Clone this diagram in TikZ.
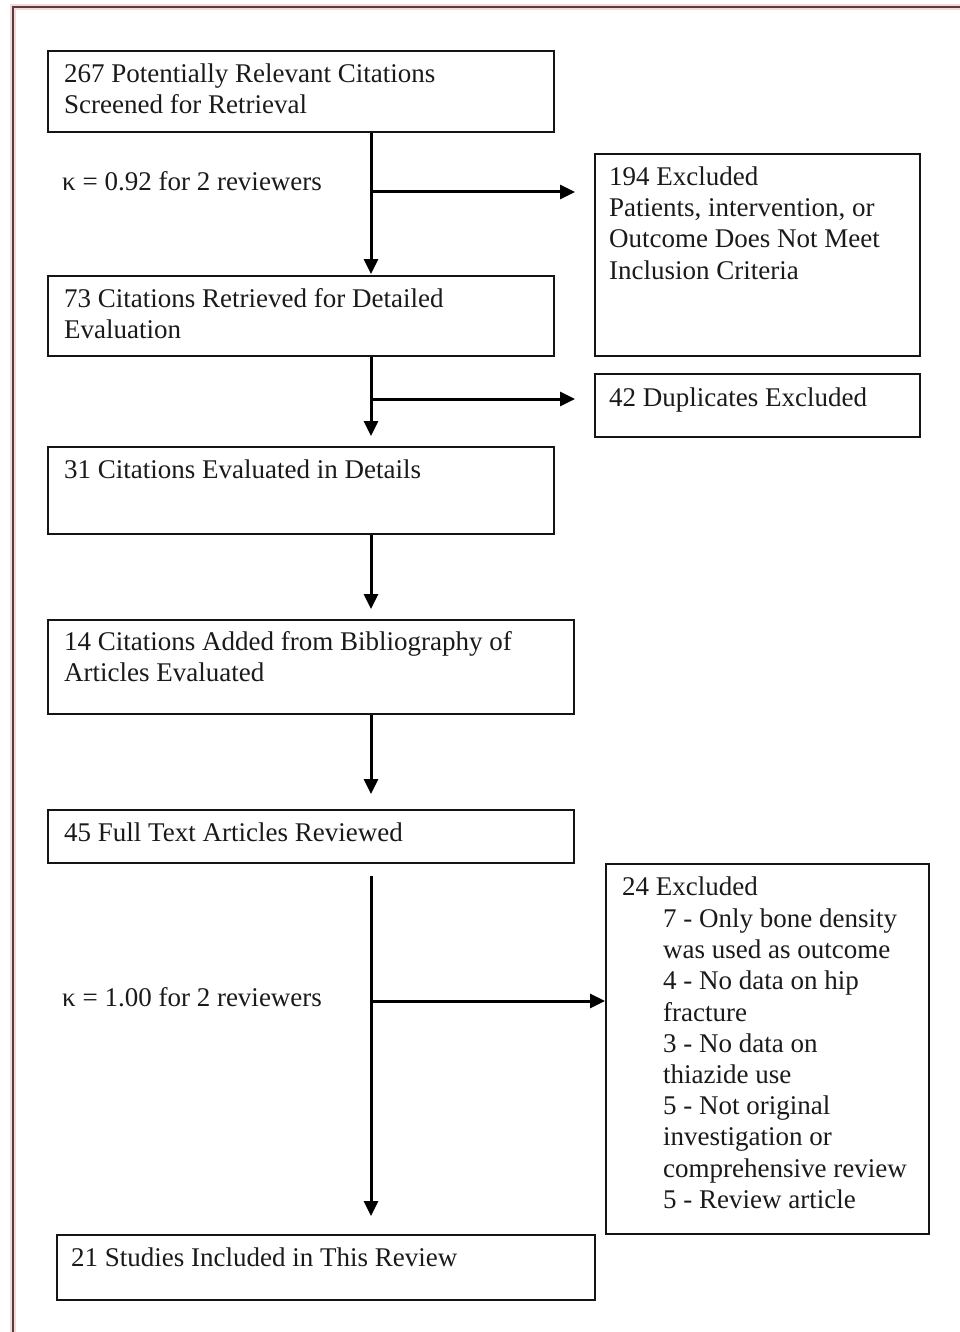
\documentclass[tikz,border=0pt]{standalone}
\usepackage{fontspec}
\setmainfont{Liberation Serif}
\usetikzlibrary{arrows.meta}
\definecolor{boxc}{HTML}{151515}
\definecolor{txtc}{HTML}{1A1A1A}
\definecolor{framec}{HTML}{5A3C3C}
\definecolor{haloc}{HTML}{F3DADA}
\begin{document}
\begin{tikzpicture}[x=1pt,y=-1pt,
  box/.style={draw=boxc, line width=2pt, inner sep=0pt, anchor=north west, fill=white},
  txt/.style={anchor=north west, inner sep=0pt, align=left, text=txtc, font=\fontsize{27}{31.2}\selectfont},
  arr/.style={draw=black, line width=3pt, -{Triangle[length=15pt,width=14pt]}},
]
\useasboundingbox (0,0) rectangle (960,1332);
\fill[white] (0,0) rectangle (960,1332);
% outer frame (cropped page border)
\draw[haloc, line width=6pt] (960,7) -- (13,7) -- (13,1332);
\draw[framec, line width=2pt] (960,7) -- (13,7) -- (13,1332);

% boxes
\node[box, minimum width=506pt, minimum height=81pt] (b1) at (47,50) {};
\node[box, minimum width=506pt, minimum height=80pt] (b2) at (47,275) {};
\node[box, minimum width=506pt, minimum height=87pt] (b3) at (47,446) {};
\node[box, minimum width=526pt, minimum height=94pt] (b4) at (47,619) {};
\node[box, minimum width=526pt, minimum height=53pt] (b5) at (47,809) {};
\node[box, minimum width=538pt, minimum height=65pt] (b6) at (56,1234) {};
\node[box, minimum width=325pt, minimum height=202pt] (r1) at (594,153) {};
\node[box, minimum width=325pt, minimum height=63pt] (r2) at (594,373) {};
\node[box, minimum width=323pt, minimum height=370pt] (r3) at (605,863) {};

% texts
\node[txt] (t1) at (64,63.5) {267 Potentially Relevant Citations\\Screened for Retrieval};
\node[txt] (t2) at (64,288.5) {73 Citations Retrieved for Detailed\\Evaluation};
\node[txt] (t3) at (64,459.5) {31 Citations Evaluated in Details};
\node[txt] (t4) at (64,631.5) {14 Citations Added from Bibliography of\\Articles Evaluated};
\node[txt] (t5) at (64,823) {45 Full Text Articles Reviewed};
\node[txt] (t6) at (71,1248) {21 Studies Included in This Review};
\node[txt] (tr1) at (609,166.5) {194 Excluded\\Patients, intervention, or\\Outcome Does Not Meet\\Inclusion Criteria};
\node[txt] (tr2) at (609,387.5) {42 Duplicates Excluded};
\node[txt] (tr3) at (622,876.5) {24 Excluded};
\node[txt] (tr3l) at (663,908.5) {7 - Only bone density\\was used as outcome\\4 - No data on hip\\fracture\\3 - No data on\\thiazide use\\5 - Not original\\investigation or\\comprehensive review\\5 - Review article};
\node[txt] (k1) at (62,171.5) {κ = 0.92 for 2 reviewers};
\node[txt] (k2) at (62,987.5) {κ = 1.00 for 2 reviewers};

% connector geometry
\coordinate (spine) at (371,0);
\coordinate (lv1) at (0,192);
\coordinate (lv2) at (0,399);
\coordinate (lv3) at (0,1001);

\draw[arr, shorten >=1pt] (b1.south -| spine) -- (b2.north -| spine);
\draw[arr, shorten >=19pt] (spine |- lv1) -- (r1.west |- lv1);
\draw[arr, shorten >=10pt] (b2.south -| spine) -- (b3.north -| spine);
\draw[arr, shorten >=19pt] (spine |- lv2) -- (r2.west |- lv2);
\draw[arr, shorten >=10pt] (b3.south -| spine) -- (b4.north -| spine);
\draw[arr, shorten >=15pt] (b4.south -| spine) -- (b5.north -| spine);
\draw[arr, shorten <=12pt, shorten >=18pt] (b5.south -| spine) -- (b6.north -| spine);
\draw[arr] (spine |- lv3) -- (r3.west |- lv3);
\end{tikzpicture}
\end{document}
